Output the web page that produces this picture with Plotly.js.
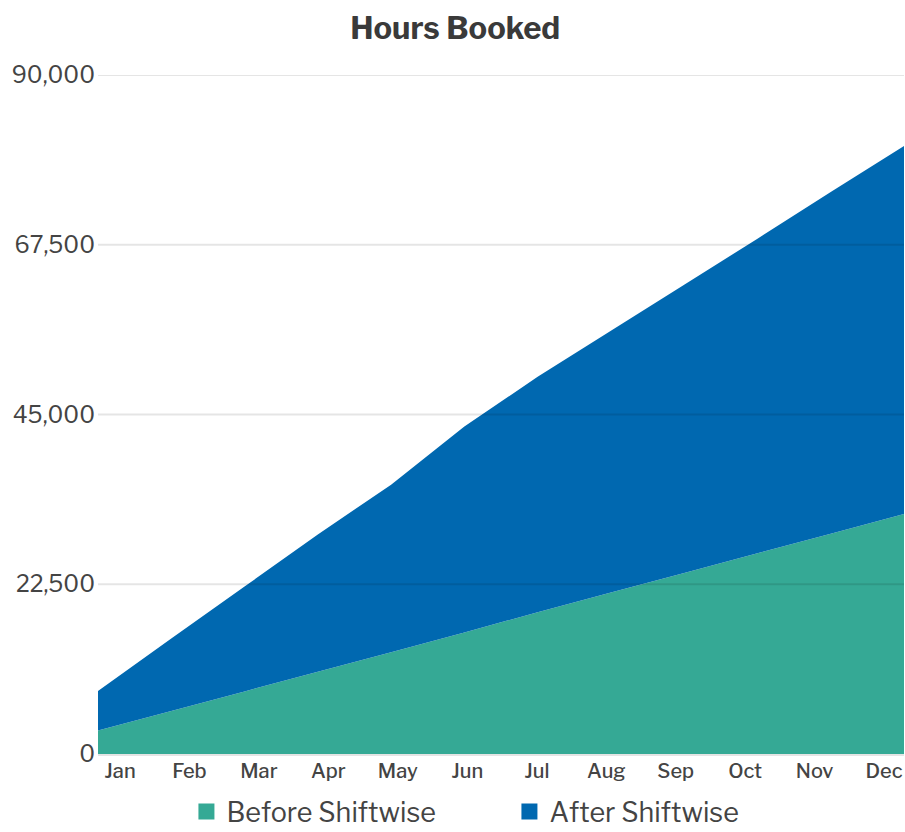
<!DOCTYPE html>
<html>
<head>
<meta charset="utf-8">
<script src="https://cdn.plot.ly/plotly-3.0.1.min.js"></script>
<style>
  html, body { margin: 0; padding: 0; background: #fff; }
  #chart { width: 905px; height: 832px; }
</style>
</head>
<body>
<div id="chart"></div>
<script>
// month labels and their index on the x axis
var months = ["Jan", "Feb", "Mar", "Apr", "May", "Jun", "Jul", "Aug", "Sep", "Oct", "Nov", "Dec"];
var monthIdx = [0, 1, 2, 3, 4, 5, 6, 7, 8, 9, 10, 11];

// hours booked (stacked)
var beforeShiftwise = [3100, 5700, 8300, 10900, 13500, 16100, 18800, 21400, 24000, 26600, 29200, 31800];
var afterShiftwise  = [5250, 9600, 13900, 18200, 22200, 27300, 31200, 34700, 38200, 41700, 45300, 48800];

var seriesNames = ["Before Shiftwise", "After Shiftwise"];
var seriesColors = ["#35A995", "#0068B0"];

var yTicks = [0, 22500, 45000, 67500, 90000];

var fontFam = "Libre Franklin, Roboto, Arial, sans-serif";

var traces = [
  {
    x: monthIdx, y: beforeShiftwise, name: seriesNames[0],
    type: "scatter", mode: "none", stackgroup: "one",
    fillcolor: seriesColors[0], line: {width: 0}, showlegend: false
  },
  {
    x: monthIdx, y: afterShiftwise, name: seriesNames[1],
    type: "scatter", mode: "none", stackgroup: "one",
    fillcolor: seriesColors[1], line: {width: 0}, showlegend: false
  }
];

// legend entries with square swatches
seriesNames.forEach(function(n, i) {
  traces.push({
    x: [null], y: [null], name: n, type: "scatter", mode: "markers",
    marker: {symbol: "square", size: 22, color: seriesColors[i]},
    showlegend: true
  });
});

// grid lines are drawn over the areas in the original
var gridShapes = yTicks.slice(1).map(function(v) {
  return {
    type: "line", xref: "paper", yref: "y", x0: 0, x1: 1, y0: v, y1: v,
    layer: "above", line: {color: "rgba(0,0,0,0.1)", width: 2}
  };
});

var layout = {
  width: 905, height: 832,
  margin: {l: 98, r: 1, t: 75, b: 78},
  paper_bgcolor: "#fff", plot_bgcolor: "#fff",
  font: {family: fontFam, color: "#444"},
  title: {
    text: "Hours Booked",
    font: {size: 31, family: fontFam, color: "#3a3a3a", weight: 700},
    x: 0.503, xanchor: "center", y: 0.966, yanchor: "middle"
  },
  xaxis: {
    range: [0, 11],
    tickmode: "array",
    tickvals: monthIdx.map(function(i) { return 0.3 + i * 0.948; }),
    ticktext: months,
    tickfont: {size: 20, color: "#444", weight: 500},
    ticklabelstandoff: -2,
    showgrid: false, zeroline: false,
    showline: true, linecolor: "#e4e4e4", linewidth: 2,
    ticks: "", fixedrange: true
  },
  yaxis: {
    range: [0, 90000],
    tickmode: "array",
    tickvals: yTicks,
    ticktext: yTicks.map(function(v) { return v.toLocaleString("en-US"); }),
    tickfont: {size: 23, color: "#444"},
    ticklabelstandoff: 2,
    showgrid: false, zeroline: false, showline: false,
    ticks: "", fixedrange: true
  },
  shapes: gridShapes,
  showlegend: true,
  legend: {
    orientation: "h", xref: "container", yref: "container",
    x: 0.206, xanchor: "left", y: 0.024, yanchor: "middle",
    font: {size: 27, color: "#444"},
    entrywidth: 278, itemsizing: "trace", traceorder: "normal"
  }
};

Plotly.newPlot("chart", traces, layout, {displayModeBar: false, staticPlot: true});
</script>
</body>
</html>
